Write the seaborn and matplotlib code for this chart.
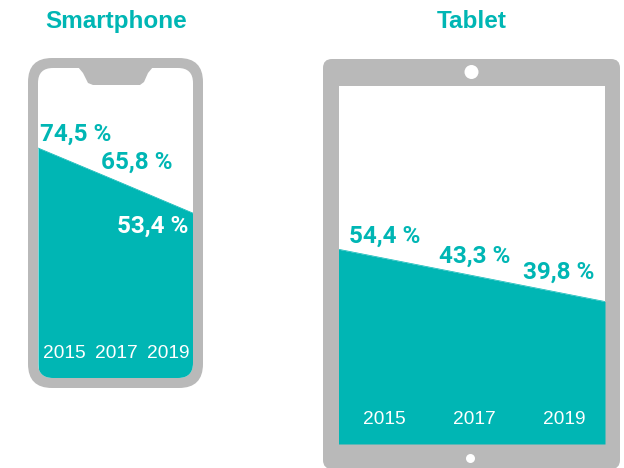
import matplotlib
matplotlib.use("Agg")
import matplotlib.pyplot as plt
from matplotlib.patches import FancyBboxPatch, Circle, Polygon
import seaborn as sns
import pandas as pd

YEARS = [2015, 2017, 2019]
# height of the drawn area at each year (the drawn slope is straight between end points)
PHONE_DRAWN = [74.5, 64.0, 53.4]
TABLET_DRAWN = [54.4, 47.1, 39.8]
PHONE_LABELS = ["74,5 %", "65,8 %", "53,4 %"]
TABLET_LABELS = ["54,4 %", "43,3 %", "39,8 %"]
TITLES = ["Smartphone", "Tablet"]

TEAL = "#00b6b4"
GREY = "#b9b9b9"
W, H = 624, 468

sns.set_theme(style="white")
plt.rcParams["font.family"] = ["Liberation Sans", "DejaVu Sans"]
fig = plt.figure(figsize=(W / 100, H / 100), dpi=100, facecolor="white")


def overlay(z):
    a = fig.add_axes([0, 0, 1, 1], zorder=z)
    a.set_xlim(0, W)
    a.set_ylim(H, 0)
    a.axis("off")
    a.patch.set_alpha(0)
    return a


bg = overlay(0)
top = overlay(5)


def rbox(ax, x0, y0, x1, y1, r, color, z=1):
    p = FancyBboxPatch((x0 + r, y0 + r), x1 - x0 - 2 * r, y1 - y0 - 2 * r,
                       boxstyle=f"round,pad={r},rounding_size={r}",
                       fc=color, ec="none", zorder=z)
    ax.add_patch(p)
    return p


# phone body
rbox(bg, 28, 58, 203, 388, 24, GREY)
rbox(bg, 38, 68, 193, 378, 15, "white", 2)
bg.add_patch(Polygon([[78, 67], [153, 67], [148, 73], [144, 82], [140, 85],
                      [93, 85], [88, 83], [83, 73]], fc=GREY, ec="none", zorder=5))
# tablet body
rbox(bg, 323, 59, 620, 469, 9, GREY)
bg.add_patch(plt.Rectangle((338.5, 86), 266.5, 358, fc="white", ec="none", zorder=2))
bg.add_patch(Circle((471.5, 72), 7, fc="white", ec="none", zorder=3))
bg.add_patch(Circle((470.5, 458.5), 4.5, fc="white", ec="none", zorder=3))


def panel(box, ymax, drawn, labels, label_px, year_px, year_y, label_colors, clip=None):
    x0, y0, x1, y1 = box
    ax = fig.add_axes([x0 / W, 1 - y1 / H, (x1 - x0) / W, (y1 - y0) / H], zorder=2)
    ax.patch.set_alpha(0)
    df = pd.DataFrame({"year": YEARS, "v": drawn})
    sns.lineplot(data=df, x="year", y="v", ax=ax, color=TEAL, lw=0.5, legend=False)
    fill = ax.fill_between(df["year"], df["v"], 0, color=TEAL, lw=0)
    ax.set_xlim(YEARS[0], YEARS[-1])
    ax.set_ylim(0, ymax)
    ax.axis("off")
    if clip is not None:
        fill.set_clip_path(clip)
    for lab, (px, py), c in zip(labels, label_px, label_colors):
        top.text(px, py, lab, color=c, fontsize=17.5, fontweight="bold", family="Roboto",
                 ha="center", va="center")
    for yr, px in zip(YEARS, year_px):
        top.text(px, year_y, str(yr), color="white", fontsize=13.8, ha="center", va="center")
    return ax


clip_phone = rbox(bg, 38, 68, 193, 378, 15, "none", 0)
panel((38, 68, 193, 378), 100.4, PHONE_DRAWN, PHONE_LABELS,
      [(76, 134), (137, 162), (153, 226)], [64, 116, 168], 353.5,
      [TEAL, TEAL, "white"], clip=clip_phone)
panel((338.5, 86, 605, 444), 100, TABLET_DRAWN, TABLET_LABELS,
      [(385, 236), (475, 256), (559, 272)], [384, 474, 564], 419.5,
      [TEAL, TEAL, TEAL])

top.text(116, 28, TITLES[0], color=TEAL, fontsize=17.5, fontweight="bold", ha="center", va="baseline")
top.text(471.5, 28, TITLES[1], color=TEAL, fontsize=17.5, fontweight="bold", ha="center", va="baseline")

fig.savefig("out.png", dpi=100, facecolor="white")
